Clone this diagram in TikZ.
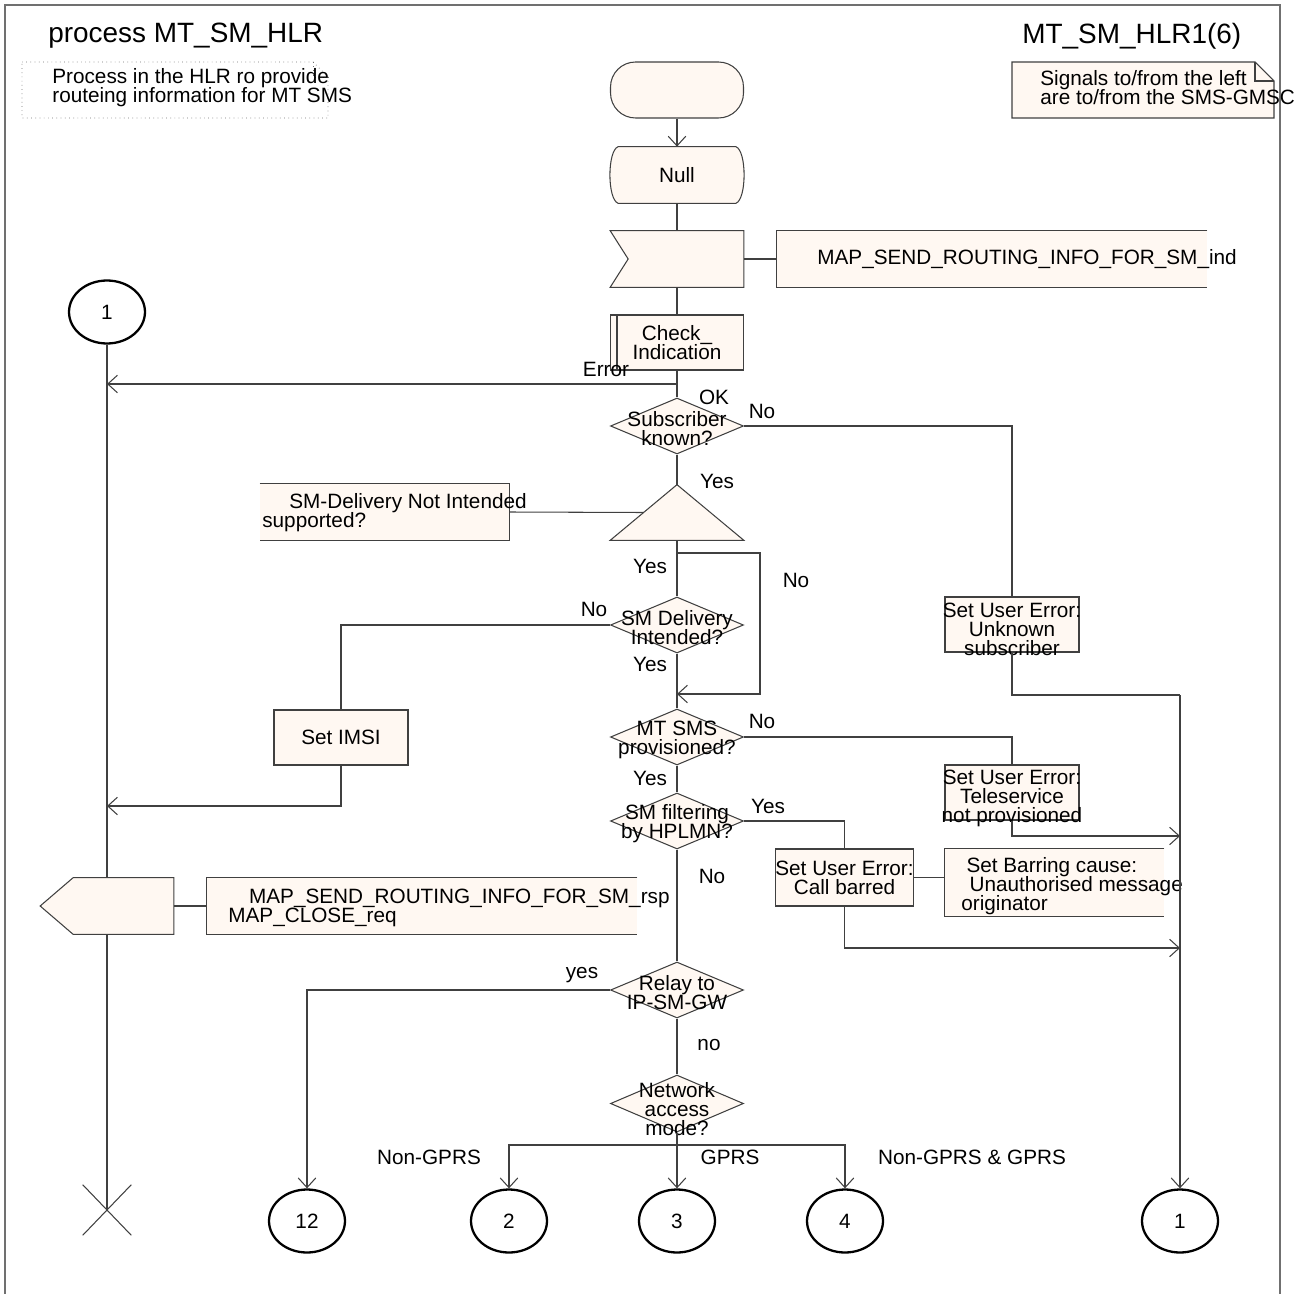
\documentclass[tikz,border=0pt]{standalone}
\usepackage{fontspec}
\setmainfont{Liberation Sans}
\usetikzlibrary{arrows.meta,calc,positioning,backgrounds,shapes.geometric}

\definecolor{sdlfill}{HTML}{FFF8F2}
\definecolor{sdlline}{HTML}{404040}
\definecolor{framegray}{HTML}{707070}
\newcommand\sdlfont{\fontsize{11.8}{10.8}\selectfont\lineskiplimit=-20pt\relax}

\tikzset{
  every node/.style={inner sep=0pt,font=\sdlfont},
  sym/.style={draw=sdlline,fill=sdlfill,line width=0.6pt},
  blank/.style={minimum width=2.66cm,minimum height=1.12cm},
  task/.style={sym,minimum width=2.68cm,minimum height=1.1cm,align=center},
  dec/.style={sym,diamond,minimum width=2.66cm,minimum height=1.12cm},
  dectext/.style={align=center,yshift=-1.5pt},
  conn/.style={draw=black,line width=1.3pt,ellipse,minimum width=1.52cm,minimum height=1.26cm},
  flow/.style={draw=sdlline,line width=0.6pt},
  arr/.style={flow,-{Straight Barb[length=5.5pt,width=10pt]}},
  title/.style={font=\fontsize{15.9}{18}\selectfont}
}

\begin{document}
\begin{tikzpicture}[x=0.02cm,y=-0.02cm]
\useasboundingbox (0,0) rectangle (1305,1294);
\draw[framegray,line width=0.8pt](5,1294)--(5,5)--(1280,5)--(1280,1294);

\node[title,anchor=west] (ptitle) at (48,36) {process MT\_SM\_HLR};
\node[title,anchor=west] (pnum) at (1022,36) {MT\_SM\_HLR1(6)};
\draw[framegray,dotted](22,62)--(313,62)--(328,77)--(328,118)--(22,118)--cycle;
\draw[framegray,dotted](313,62)--(313,77)--(328,77);
\node[anchor=west,align=left] (ptext) at (52,88) {Process in the HLR ro provide\\routeing information for MT SMS};
\draw[sym](1012,62)--(1255,62)--(1274,81)--(1274,118)--(1012,118)--cycle;
\draw[flow](1255,62)--(1255,81)--(1274,81);
\node[anchor=west,align=left] (note) at (1040,88) {Signals to/from the left\\are to/from the SMS-GMSC};

\node[sym,blank,rounded corners=0.5cm] (start) at (677,90) {};
\node[blank] (null) at (677,175) {Null};
\node[blank] (in) at (677,259) {};
\node[minimum width=8.6cm,minimum height=1.12cm] (indbox) at (992,259) {};
\node[anchor=west] (indtext) at (817,259) {MAP\_SEND\_ROUTING\_INFO\_FOR\_SM\_ind};
\node[task,minimum width=2.66cm] (chk) at (677,342.5) {Check\_\\Indication};
\node[dec,label={[dectext]center:{Subscriber\\known?}}] (sk) at (677,426) {};
\node[minimum width=2.66cm,minimum height=1.1cm] (opt) at (677,512.5) {};
\node[minimum width=4.98cm,minimum height=1.12cm] (sdn) at (384.5,512) {};
\node[anchor=west,align=left] (sdntext) at (262,513) {\hspace*{1.3em}SM-Delivery Not Intended\\supported?};
\node[dec,label={[dectext]center:{SM Delivery\\Intended?}}] (smd) at (677,625) {};
\node[task] (imsi) at (341,737.5) {Set IMSI};
\node[dec,label={[dectext]center:{MT SMS\\provisioned?}}] (mts) at (677,737) {};
\node[dec,label={[dectext]center:{SM filtering\\by HPLMN?}}] (smf) at (677,821) {};
\node[task,label={[align=center,yshift=-3pt]center:{Set User Error:\\Unknown\\subscriber}}] (unk) at (1012,624.5) {};
\node[task,label={[align=center,yshift=-3.5pt]center:{Set User Error:\\Teleservice\\not provisioned}}] (tel) at (1012,792.5) {};
\node[task,minimum width=2.7cm,minimum height=1.14cm] (cb) at (844.5,877.5) {Set User Error:\\Call barred};
\node[minimum width=4.38cm,minimum height=1.34cm] (sbc) at (1054.5,882.5) {};
\node[anchor=west,align=left] (sbctext) at (961,886) {\hspace*{0.25em}Set Barring cause:\\\hspace*{0.4em}Unauthorised message\\originator};
\node[dec,label={[dectext]center:{Relay to\\IP-SM-GW}}] (relay) at (677,990) {};
\node[dec,minimum height=1.14cm,label={[dectext,yshift=-1.5pt]center:{Network\\access\\mode?}}] (nam) at (677,1103.5) {};
\node[blank] (out) at (107,906) {};
\node[minimum width=8.6cm,minimum height=1.12cm] (rspbox) at (422,906) {};
\node[anchor=west,align=left] (rsptext) at (228,908) {\hspace*{1em}MAP\_SEND\_ROUTING\_INFO\_FOR\_SM\_rsp\\MAP\_CLOSE\_req};

\node[conn] (c1l) at (107,312) {1};
\node[conn] (c12) at (307,1221) {12};
\node[conn] (c2) at (509,1221) {2};
\node[conn] (c3) at (677,1221) {3};
\node[conn] (c4) at (845,1221) {4};
\node[conn] (c1r) at (1180,1221) {1};
\node[minimum width=0.96cm,minimum height=1cm] (stop) at (107,1210) {};

\begin{scope}[on background layer]
\draw[sym]($(null.north west)+(8,0)$)--($(null.north east)+(-8,0)$)
  .. controls ($(null.north east)+(3,4)$) and ($(null.south east)+(3,-4)$) .. ($(null.south east)+(-8,0)$)
  --($(null.south west)+(8,0)$)
  .. controls ($(null.south west)+(-3,-4)$) and ($(null.north west)+(-3,4)$) .. cycle;
\draw[sym](in.north west)--(in.north east)--(in.south east)--(in.south west)--($(in.west)+(18,0)$)--cycle;
\draw[sym](indbox.north east)--(indbox.north west)--(indbox.south west)--(indbox.south east);
\draw[sym](opt.north)--(opt.south east)--(opt.south west)--cycle;
\draw[sym](sdn.north west)--(sdn.north east)--(sdn.south east)--(sdn.south west);
\draw[sym](sbc.north east)--(sbc.north west)--(sbc.south west)--(sbc.south east);
\draw[sym](rspbox.north east)--(rspbox.north west)--(rspbox.south west)--(rspbox.south east);
\draw[sym]($(out.north west)+(33,0)$)--(out.north east)--(out.south east)--($(out.south west)+(33,0)$)--(out.west)--cycle;
\end{scope}
\draw[flow]($(chk.north west)+(7,0)$)--($(chk.south west)+(7,0)$);
\draw[flow](stop.north west)--(stop.south east)(stop.north east)--(stop.south west);

\coordinate (err) at (107,384);
\coordinate (loopa) at (677,553);
\coordinate (loopb) at (760,553);
\coordinate (join) at (677,694);
\coordinate (imsiback) at (107,806);
\coordinate (rbus) at (1180,695);
\coordinate (rin1) at (1180,836);
\coordinate (rin2) at (1180,948);
\coordinate (br) at (677,1145);

\draw[arr](start)--(null);
\draw[flow](null)--(in);
\draw[flow](in.east)--(indbox.west);
\draw[flow](in)--(chk);
\draw[arr](chk.south)|-(err);
\draw[flow](chk)--(sk);
\draw[flow](sk.east)-|(unk.north);
\draw[flow](sk)--(opt.north);
\draw[flow](sdn.east)--($(opt.north)!0.5!(opt.south west)$);
\draw[flow](opt.south)--(smd.north);
\draw[arr](loopa)--(loopb)|-(join);
\draw[flow](smd.west)-|(imsi.north);
\draw[flow](smd)--(mts);
\draw[arr](imsi.south)|-(imsiback);
\draw[flow](mts.east)-|(tel.north);
\draw[flow](mts)--(smf);
\draw[flow](smf.east)-|(cb.north);
\draw[flow](cb.east)--(cb.east-|sbc.west);
\draw[flow](unk.south)|-(rbus);
\draw[arr](rbus)--(c1r);
\draw[arr](tel.south)|-(rin1);
\draw[arr](cb.south)|-(rin2);
\draw[flow](smf)--(relay);
\draw[arr](relay.west)-|(c12.north);
\draw[flow](relay)--(nam);
\draw[arr](nam.south)--(c3);
\draw[arr](br)-|(c2.north);
\draw[arr](br)-|(c4.north);
\draw[flow](c1l)--(out);
\draw[flow](out.east)--(rspbox.west);
\draw[flow](out)--(stop.center);

\node (l-err) at (606,369) {Error};
\node (l-ok) at (714,397) {OK};
\node (l-skno) at (762,411) {No};
\node (l-skyes) at (717,481) {Yes};
\node (l-optyes) at (650,566) {Yes};
\node (l-optno) at (796,580) {No};
\node (l-smdno) at (594,609) {No};
\node (l-smdyes) at (650,664) {Yes};
\node (l-mtsno) at (762,721) {No};
\node (l-mtsyes) at (650,778) {Yes};
\node (l-smfyes) at (768,806) {Yes};
\node (l-smfno) at (712,876) {No};
\node (l-relyes) at (582,975) {yes};
\node (l-relno) at (709,1045) {no};
\node (l-ngprs) at (429,1157) {Non-GPRS};
\node (l-gprs) at (730,1157) {GPRS};
\node (l-both) at (972,1157) {Non-GPRS \& GPRS};
\end{tikzpicture}
\end{document}
